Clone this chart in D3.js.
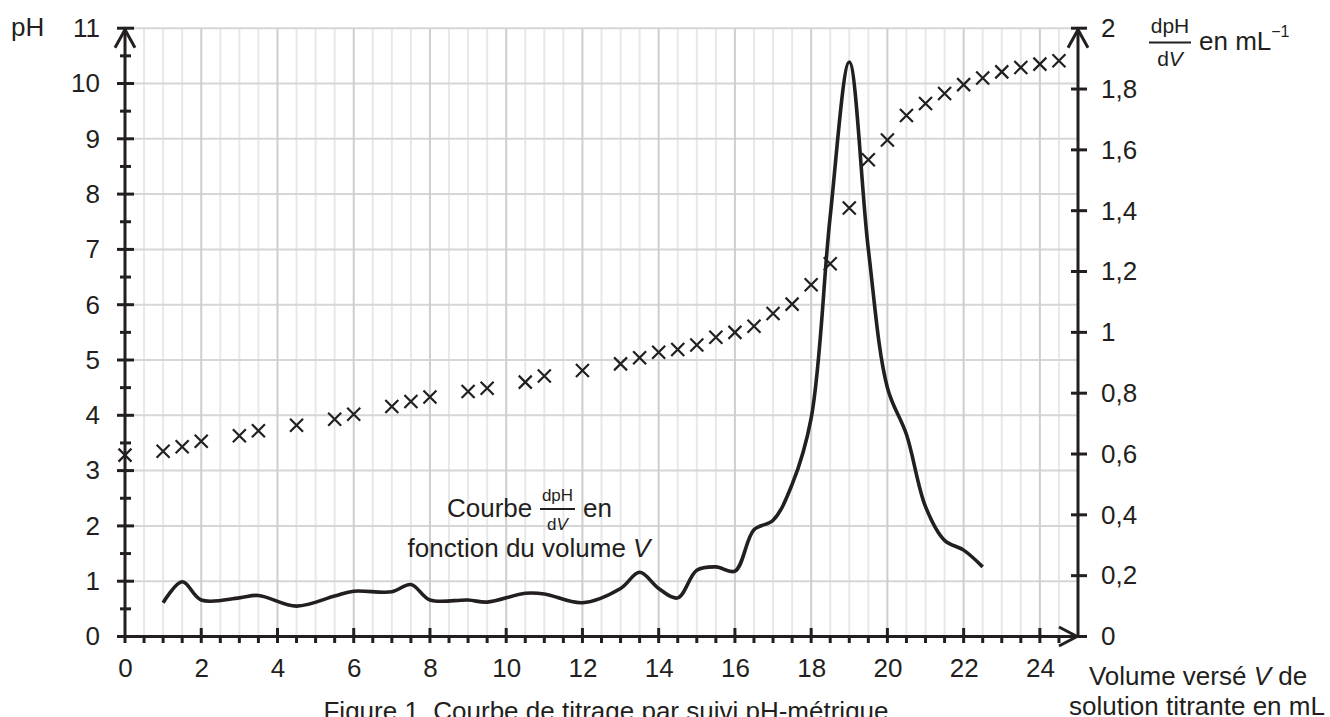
<!DOCTYPE html>
<html><head><meta charset="utf-8">
<script src="https://cdn.jsdelivr.net/npm/d3@7"></script>
<style>
body{margin:0;background:#fff}
svg{display:block}
text{font-family:"Liberation Sans",Arial,Helvetica,sans-serif;fill:#231f20}
</style>
</head><body>
<svg id="c" width="1330" height="717"></svg>
<script>
// ---- data ----
const volumesPH = [0,1,1.5,2,3,3.5,4.5,5.5,6,7,7.5,8,9,9.5,10.5,11,12,13,13.5,14,14.5,15,15.5,16,16.5,17,17.5,18,18.5,19,19.5,20,20.5,21,21.5,22,22.5,23,23.5,24,24.5];
const pHValues  = [3.28,3.35,3.43,3.53,3.63,3.72,3.82,3.93,4.02,4.16,4.25,4.33,4.43,4.49,4.60,4.71,4.81,4.93,5.04,5.14,5.19,5.27,5.41,5.50,5.61,5.84,6.01,6.36,6.74,7.75,8.62,8.98,9.42,9.64,9.82,9.98,10.10,10.21,10.29,10.35,10.41];
const volumesDeriv = [1,1.5,2,3,3.5,4.5,5.5,6,7,7.5,8,9,9.5,10.5,11,12,13,13.5,14,14.5,15,15.5,16,16.5,17,17.5,18,18.5,19,19.5,20,20.5,21,21.5,22,22.5];
const derivValues  = [0.111,0.180,0.120,0.127,0.135,0.100,0.133,0.149,0.147,0.171,0.120,0.120,0.113,0.142,0.140,0.111,0.158,0.211,0.158,0.127,0.218,0.229,0.215,0.351,0.382,0.500,0.718,1.382,1.889,1.273,0.818,0.664,0.427,0.316,0.284,0.229];
const xTicks = [0,2,4,6,8,10,12,14,16,18,20,22,24];
const pHTicks = [0,1,2,3,4,5,6,7,8,9,10,11];
const derivTicks = [0,0.2,0.4,0.6,0.8,1,1.2,1.4,1.6,1.8,2];
const derivTickLabels = ["0","0,2","0,4","0,6","0,8","1","1,2","1,4","1,6","1,8","2"];

const INK = "#231f20";
const svg = d3.select("#c");
const x  = d3.scaleLinear().domain([0,25]).range([125,1078]);
const y  = d3.scaleLinear().domain([0,11]).range([636.5,28.2]);
const y2 = d3.scaleLinear().domain([0,2]).range([636.5,28.2]);

// ---- grid ----
const halfSteps = d3.range(1,50).map(i=>i/2);
const grid = svg.append("g");
grid.selectAll("line.vmin").data(halfSteps.filter(v=>v%2!==0)).join("line")
  .attr("x1",d=>x(d)).attr("x2",d=>x(d)).attr("y1",y(11)).attr("y2",y(0))
  .attr("stroke","#e8e8e8").attr("stroke-width",2);
grid.selectAll("line.h").data(pHTicks.slice(1)).join("line")
  .attr("x1",x(0)).attr("x2",x(25)).attr("y1",d=>y(d)).attr("y2",d=>y(d))
  .attr("stroke","#d6d6d6").attr("stroke-width",2);
grid.selectAll("line.vmaj").data(halfSteps.filter(v=>v%2===0)).join("line")
  .attr("x1",d=>x(d)).attr("x2",d=>x(d)).attr("y1",y(11)).attr("y2",y(0))
  .attr("stroke","#cecece").attr("stroke-width",2);

// ---- axes labels via d3 axes ----
const fs = 26;
const gl = svg.append("g").attr("transform",`translate(${x(0)},0)`)
  .call(d3.axisLeft(y).tickValues(pHTicks).tickSize(0).tickPadding(25));
const gb = svg.append("g").attr("transform",`translate(0,${y(0)})`)
  .call(d3.axisBottom(x).tickValues(xTicks).tickSize(0).tickPadding(22));
const gr = svg.append("g").attr("transform",`translate(${x(25)},0)`)
  .call(d3.axisRight(y2).tickValues(derivTicks).tickFormat((d,i)=>derivTickLabels[i]).tickSize(0).tickPadding(23));
[gl,gb,gr].forEach(g=>{
  g.select(".domain").remove();
  g.selectAll("text").attr("font-size",fs).attr("font-family",'"Liberation Sans",Arial,sans-serif').attr("fill",INK);
});

// ---- axis lines & ticks ----
const ax = svg.append("g").attr("stroke",INK).attr("stroke-width",3).attr("fill","none");
ax.append("line").attr("x1",x(0)).attr("x2",x(0)).attr("y1",y(11)).attr("y2",y(0)+6.5);
ax.append("line").attr("x1",x(0)-8).attr("x2",x(25)).attr("y1",y(0)).attr("y2",y(0));
ax.append("line").attr("x1",x(25)).attr("x2",x(25)).attr("y1",y2(2)).attr("y2",y2(0));
// left ticks
ax.selectAll("line.lmaj").data(pHTicks).join("line")
  .attr("x1",x(0)-8).attr("x2",x(0)+9).attr("y1",d=>y(d)).attr("y2",d=>y(d));
ax.selectAll("line.lmin").data(pHTicks.slice(0,-1).map(d=>d+0.5)).join("line")
  .attr("x1",x(0)-5).attr("x2",x(0)+6).attr("y1",d=>y(d)).attr("y2",d=>y(d));
// bottom ticks
ax.selectAll("line.bmaj").data(xTicks.slice(1)).join("line")
  .attr("x1",d=>x(d)).attr("x2",d=>x(d)).attr("y1",y(0)-8.5).attr("y2",y(0)+6.5);
ax.selectAll("line.bmin").data(halfSteps.filter(v=>v%2!==0)).join("line")
  .attr("x1",d=>x(d)).attr("x2",d=>x(d)).attr("y1",y(0)).attr("y2",y(0)+6.5);
// right ticks
ax.selectAll("line.rt").data(derivTicks).join("line")
  .attr("x1",x(25)-7).attr("x2",x(25)+9).attr("y1",d=>y2(d)).attr("y2",d=>y2(d));
// arrows
ax.append("path").attr("d",`M${x(0)-10},${y(11)+19.5}L${x(0)},${y(11)+1.5}L${x(0)+10},${y(11)+19.5}`);
ax.append("path").attr("d",`M${x(25)-10},${y2(2)+19.5}L${x(25)},${y2(2)+1.5}L${x(25)+10},${y2(2)+19.5}`);
ax.append("path").attr("d",`M${x(25)-19},${y(0)-9.5}L${x(25)-1},${y(0)}L${x(25)-19},${y(0)+9.5}`);

// ---- derivative curve ----
const dData = volumesDeriv.map((v,i)=>({v, d:derivValues[i]}));
svg.append("path").datum(dData)
  .attr("d", d3.line().x(d=>x(d.v)).y(d=>y2(d.d)).curve(d3.curveCatmullRom.alpha(0.5)))
  .attr("fill","none").attr("stroke",INK).attr("stroke-width",3.6).attr("stroke-linejoin","round");

// ---- pH crosses ----
const pData = volumesPH.map((v,i)=>({v, p:pHValues[i]}));
const cs = 6.5;
svg.append("g").selectAll("path").data(pData).join("path")
  .attr("transform",d=>`translate(${x(d.v)},${y(d.p)})`)
  .attr("d",`M${-cs},${-cs}L${cs},${cs}M${-cs},${cs}L${cs},${-cs}`)
  .attr("stroke",INK).attr("stroke-width",2.2).attr("fill","none");

// ---- texts ----
const T = (xx,yy,str,size,anchor)=>svg.append("text").attr("x",xx).attr("y",yy)
  .attr("font-size",size||fs).attr("text-anchor",anchor||"start").text(str||"");

T(11,36,"pH",fs);

// right axis title: dpH/dV en mL-1
T(1170,33,"dpH",21,"middle");
svg.append("line").attr("x1",1149).attr("x2",1191).attr("y1",42.5).attr("y2",42.5).attr("stroke",INK).attr("stroke-width",2.2);
const dv1 = T(1170,66,"",21,"middle");
dv1.append("tspan").text("d"); dv1.append("tspan").attr("font-style","italic").text("V");
const en1 = T(1199,50,"en mL",fs);
en1.append("tspan").attr("font-size",16).attr("dy",-13).text("\u22121");

// annotation
T(447,517,"Courbe",fs);
T(557.5,501,"dpH",17,"middle");
svg.append("line").attr("x1",540).attr("x2",575).attr("y1",509).attr("y2",509).attr("stroke",INK).attr("stroke-width",1.8);
const dv2 = T(557.5,530,"",17,"middle");
dv2.append("tspan").text("d"); dv2.append("tspan").attr("font-style","italic").text("V");
T(583,517,"en",fs);
const l2 = T(529,557,"fonction du volume ",fs,"middle");
l2.append("tspan").attr("font-style","italic").text("V");

// x axis title
const xt1 = T(1198,685,"Volume versé ",fs,"middle");
xt1.append("tspan").attr("font-style","italic").text("V");
xt1.append("tspan").text(" de");
T(1197,714.5,"solution titrante en mL",fs,"middle");

// caption
T(606,720,"Figure 1. Courbe de titrage par suivi pH-métrique",fs,"middle");
</script>
</body></html>
